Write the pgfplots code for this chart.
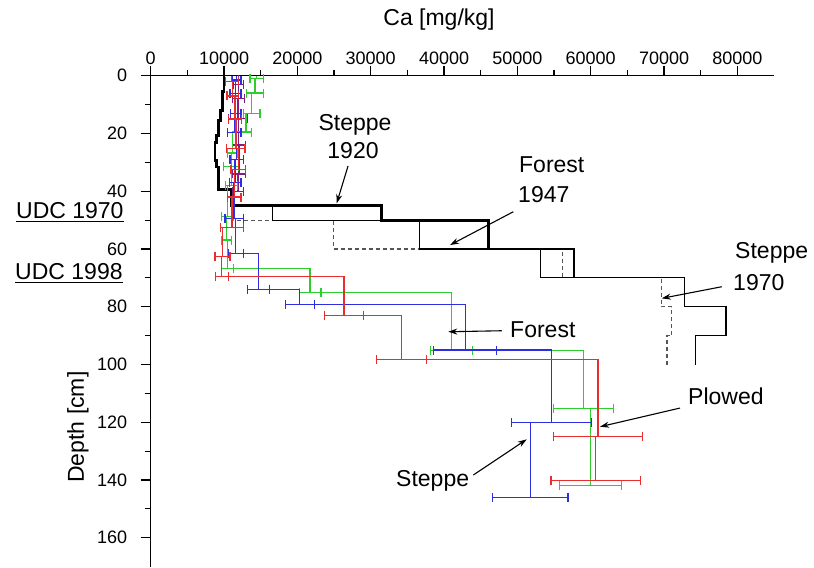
\documentclass[border=0pt]{standalone}
\usepackage{fontspec}
\setmainfont{Liberation Sans}
\usepackage{pgfplots}
\pgfplotsset{compat=1.18}
\usetikzlibrary{arrows.meta}
\definecolor{cred}{RGB}{232,45,45}
\definecolor{cgreen}{RGB}{45,205,45}
\definecolor{cblue}{RGB}{45,45,225}
\definecolor{cpurple}{RGB}{130,30,130}
\definecolor{cdot}{RGB}{85,85,85}
\newcommand{\lab}{\fontsize{23}{27}\selectfont}
\pgfplotsset{ebar/.style={only marks, mark=text, text mark={},
  error bars/.cd, x dir=both, x explicit, error mark=|,
  error mark options={mark size=4.5pt, line width=1.2pt}}}
\begin{document}
\begin{tikzpicture}
\begin{axis}[
  scale only axis, width=623.3pt, height=490.9pt,
  xmin=0, xmax=85000, ymin=0, ymax=170, y dir=reverse,
  axis x line=top, axis y line=left,
  axis line style={-, line width=1.4pt},
  xtick={0,10000,...,80000}, minor x tick num=1,
  ytick={0,20,...,160}, minor y tick num=1,
  tick align=outside, major tick length=10pt, minor tick length=6pt,
  tick style={line width=1.2pt, black},
  scaled x ticks=false,
  /pgf/number format/set thousands separator={},
  /pgf/number format/assume math mode=true,
  ticklabel style={font=\fontsize{18}{20}\selectfont},
  xticklabel style={yshift=-2pt},
  yticklabel style={xshift=-10pt},
  clip=false,
  error bars/error bar style={line width=1.25pt},
]
% Steppe 1970 (dotted)
\addplot[cdot, line width=1.2pt, dash pattern=on 4pt off 3pt] coordinates {
(11700,50) (24900,50) (24900,60) (56100,60) (56100,70) (69600,70) (69600,80) (71070,80) (71070,90) (70400,90) (70400,100)};
% Forest 1947 (thin)
\addplot[black, line width=1.2pt] coordinates {
(11050,45) (16600,45) (16600,50) (36700,50) (36700,60) (53100,60) (53100,70) (72760,70) (72760,80) (78440,80) (78440,90) (74260,90) (74260,100)};
% Steppe 1920 (thick)
\addplot[black, line width=2.8pt, line join=miter] coordinates {
(10000,0) (10000,5.5) (9820,5.5) (9820,12) (9550,12) (9550,15.5) (9220,15.5) (9220,20.7) (9000,20.7) (9000,23) (8770,23) (8770,29.3) (9000,29.3) (9000,31.6) (9220,31.6) (9220,39.4) (11050,39.4) (11050,45) (31510,45) (31510,50) (46060,50) (46060,60) (57710,60) (57710,70)};
% purple
\addplot[cpurple, line width=1.25pt, const plot] coordinates {
(11950,0) (12000,3) (11950,8) (11910,14.8) (12000,24) (12050,34) (11900,40.2)};
\addplot[cpurple, ebar] coordinates {
(12000,3) +- (700,0) (11950,8) +- (800,0) (11910,14.8) +- (1320,0) (12000,24) +- (900,0) (12050,34) +- (900,0) (11900,40.2) +- (800,0)};
% Forest 1998 (green)
\addplot[cgreen, line width=1.25pt, const plot] coordinates {
(14460,0) (14460,1) (14230,6) (13770,13) (13000,19.5) (11200,26.8) (10980,31.4) (11000,38) (10480,48.8) (10370,56.9) (10480,66.7) (21730,75) (40990,95.2) (59020,115.2) (60000,141.9)};
\addplot[cgreen, ebar] coordinates {
(14460,1) +- (910,0) (14230,6) +- (1130,0) (13770,13) +- (1140,0) (13000,19.5) +- (700,0) (11200,26.8) +- (700,0) (10980,31.4) +- (1000,0) (11000,38) +- (800,0) (10480,48.8) +- (800,0) (10370,56.9) +- (700,0) (10480,66.7) +- (800,0) (21730,75) +- (1480,0) (40990,95.2) +- (2840,0) (59020,115.2) +- (4090,0) (60000,141.9) +- (4250,0)};
% Steppe 1998 (blue)
\addplot[cblue, line width=1.25pt, const plot] coordinates {
(11700,0) (11700,1.5) (11570,6.1) (11600,13) (11410,19.7) (11720,29.1) (11500,37) (11370,49.4) (11600,61.5) (14680,73.9) (20310,79.2) (42880,95) (54700,120) (51740,146)};
\addplot[cblue, ebar] coordinates {
(11700,1.5) +- (600,0) (11570,6.1) +- (750,0) (11600,13) +- (700,0) (11410,19.7) +- (910,0) (11720,29.1) +- (900,0) (11500,37) +- (800,0) (11370,49.4) +- (1250,0) (11600,61.5) +- (1000,0) (14680,73.9) +- (1470,0) (20310,79.2) +- (1980,0) (42880,95) +- (4320,0) (54700,120) +- (5460,0) (51740,146) +- (5160,0)};
% Plowed 1998 (red)
\addplot[cred, line width=1.25pt, const plot] coordinates {
(11050,0) (11050,2) (11200,7) (11500,15) (11620,25.1) (11950,32.6) (11400,42) (11090,52.5) (9780,62.7) (9690,69.6) (26370,83) (34150,98.2) (60990,125) (60670,140.2)};
\addplot[cred, ebar] coordinates {
(11050,2) +- (900,0) (11200,7) +- (800,0) (11500,15) +- (900,0) (11620,25.1) +- (1250,0) (11950,32.6) +- (1000,0) (11400,42) +- (900,0) (11090,52.5) +- (1540,0) (9780,62.7) +- (1020,0) (9690,69.6) +- (900,0) (26370,83) +- (2660,0) (34150,98.2) +- (3410,0) (60990,125) +- (6070,0) (60670,140.2) +- (6090,0)};

% labels
\node[font=\lab, inner sep=0pt, anchor=base] at (axis cs:39316,-17.38) {Ca [mg/kg]};
\node[font=\lab, inner sep=0pt, rotate=90] at (axis cs:-9914,121.66) {Depth [cm]};
\node[font=\lab, inner sep=0pt, anchor=base west] (u1) at (axis cs:-18370,49.38) {UDC 1970};
\draw[line width=1.3pt] ([yshift=-3.4pt]u1.base west) -- ([yshift=-3.4pt]u1.base east);
\node[font=\lab, inner sep=0pt, anchor=base west] (u2) at (axis cs:-18500,70.51) {UDC 1998};
\draw[line width=1.3pt] ([yshift=-3.4pt]u2.base west) -- ([yshift=-3.4pt]u2.base east);

% annotations
\node[font=\lab, inner sep=0pt, anchor=base] at (axis cs:27860,18.80) {Steppe};
\node[font=\lab, inner sep=0pt, anchor=base] at (axis cs:27590,28.50) {1920};
\draw[-{Stealth[length=9pt,width=6pt]}, line width=1.1pt] (axis cs:26910,31.27) -- (axis cs:25360,44.19);
\node[font=\lab, inner sep=0pt, anchor=base west] at (axis cs:50220,33.35) {Forest};
\node[font=\lab, inner sep=0pt, anchor=base west] at (axis cs:50090,43.74) {1947};
\draw[-{Stealth[length=9pt,width=6pt]}, line width=1.1pt] (axis cs:49450,47.10) -- (axis cs:40820,58.63);
\node[font=\lab, inner sep=0pt, anchor=base west] at (axis cs:79680,63.13) {Steppe};
\node[font=\lab, inner sep=0pt, anchor=base west] at (axis cs:79410,74.21) {1970};
\draw[-{Stealth[length=9pt,width=6pt]}, line width=1.1pt] (axis cs:77870,73.07) -- (axis cs:69690,77.09);
\node[font=\lab, inner sep=0pt, anchor=base west] at (axis cs:49000,90.49) {Forest};
\draw[-{Stealth[length=9pt,width=6pt]}, line width=1.1pt] (axis cs:47870,88.31) -- (axis cs:40580,88.66);
\node[font=\lab, inner sep=0pt, anchor=base west] at (axis cs:73270,113.69) {Plowed};
\draw[-{Stealth[length=9pt,width=6pt]}, line width=1.1pt] (axis cs:72180,115.08) -- (axis cs:61270,121.55);
\node[font=\lab, inner sep=0pt, anchor=base west] at (axis cs:33450,142.09) {Steppe};
\draw[-{Stealth[length=9pt,width=6pt]}, line width=1.1pt] (axis cs:43990,138.28) -- (axis cs:51270,125.92);

\coordinate (bbSW) at (axis cs:-20551,170.15);
\coordinate (bbNE) at (axis cs:90450,-26.22);
\end{axis}
\pgfresetboundingbox
\path (bbSW) rectangle (bbNE);
\end{tikzpicture}
\end{document}
